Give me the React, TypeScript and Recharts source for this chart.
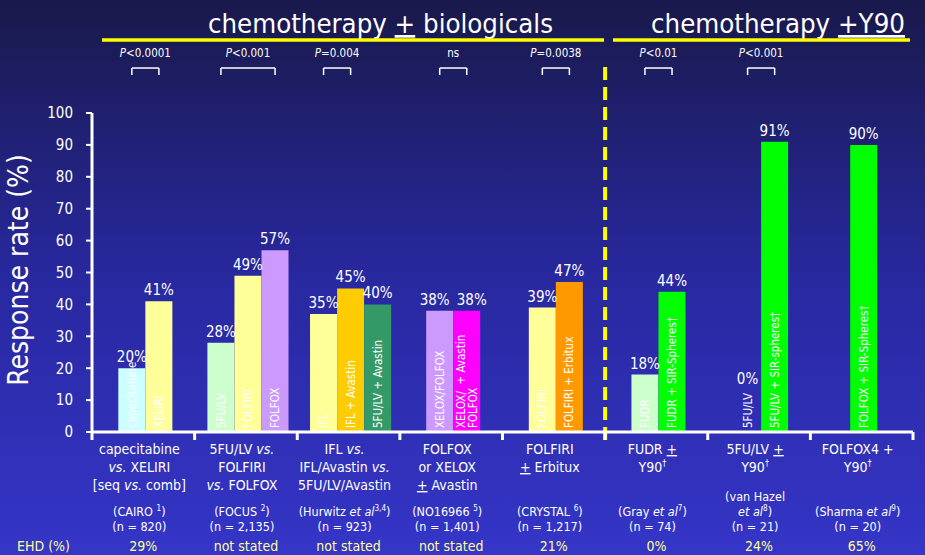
import React from 'react';
import { BarChart, Bar, XAxis, YAxis, Cell, LabelList, ReferenceLine } from 'recharts';

const FONT = "'DejaVu Sans Condensed', 'Liberation Sans', sans-serif";

// one entry per bar, left to right
const barNames = [
  'capecitabine', 'XELIRI',
  '5FU/LV', 'FOLFIRI', 'FOLFOX',
  'IFL', 'IFL + Avastin', '5FU/LV + Avastin',
  'XELOX/FOLFOX', 'XELOX/  + Avastin|FOLFOX',
  'FOLFIRI', 'FOLFIRI + Erbitux',
  'FUDR', 'FUDR + SIR-Spheres\u2020',
  '5FU/LV', '5FU/LV + SIR-spheres\u2020',
  'FOLFOX + SIR-Spheres\u2020',
];
const barGroup = [0, 0, 1, 1, 1, 2, 2, 2, 3, 3, 4, 4, 5, 5, 6, 6, 7];
const responseRates = [20, 41, 28, 49, 57, 37, 45, 40, 38, 38, 39, 47, 18, 44, 0, 91, 90];
const rateLabels = ['20%', '41%', '28%', '49%', '57%', '35%', '45%', '40%', '38%', '38%', '39%', '47%', '18%', '44%', '0%', '91%', '90%'];
const barColors = [
  '#CCFFFF', '#FFFF99', '#CCFFCC', '#FFFF99', '#CC99FF', '#FFFF99', '#FFCC00', '#339966',
  '#CC99FF', '#FF00FF', '#FFFF99', '#FF9900', '#CCFFCC', '#00FF00', '#CCFFCC', '#00FF00', '#00FF00',
];

// per group, under the axis
const groupLabels = [
  ['capecitabine', '*vs.* XELIRI', '[seq *vs.* comb]'],
  ['5FU/LV *vs.*', 'FOLFIRI', '*vs.* FOLFOX'],
  ['IFL *vs.*', 'IFL/Avastin *vs.*', '5FU/LV/Avastin'],
  ['FOLFOX', 'or XELOX', '_+_ Avastin'],
  ['FOLFIRI', '_+_ Erbitux'],
  ['FUDR _+_', 'Y90^\u2020^'],
  ['5FU/LV _+_', 'Y90^\u2020^'],
  ['FOLFOX4 +', 'Y90^\u2020^'],
];
const studyLabels = [
  ['(CAIRO ^1^)', '(n = 820)'],
  ['(FOCUS ^2^)', '(n = 2,135)'],
  ['(Hurwitz *et al*^3,4^)', '(n = 923)'],
  ['(NO16966 ^5^)', '(n = 1,401)'],
  ['(CRYSTAL ^6^)', '(n = 1,217)'],
  ['(Gray *et al*^7^)', '(n = 74)'],
  ['(van Hazel', '*et al*^8^)', '(n = 21)'],
  ['(Sharma *et al*^9^)', '(n = 20)'],
];
const ehdValues = ['29%', 'not stated', 'not stated', 'not stated', '21%', '0%', '24%', '65%'];

// bars compared by each bracket, and the p value over it
const pComparisons = [[0, 1], [2, 4], [5, 6], [8, 9], [10, 11], [12, 13], [14, 15]];
const pValues = ['*P*<0.0001', '*P*<0.001', '*P*=0.004', 'ns', '*P*=0.0038', '*P*<0.01', '*P*<0.001'];

const yTicks = [0, 10, 20, 30, 40, 50, 60, 70, 80, 90, 100];

const STEP = 0.2636; // bar width in group units
const SHIFT = 0.02;
const barX = barGroup.map((g, i) => {
  const members = barGroup.map((gg, j) => (gg === g ? j : -1)).filter((j) => j >= 0);
  const k = members.indexOf(i);
  return g + 0.5 + SHIFT + (k - (members.length - 1) / 2) * STEP;
});
const tableData = barNames.map((name, i) => ({
  name,
  x: barX[i],
  rate: responseRates[i],
  label: rateLabels[i],
}));
const axisTicks = Array.from({ length: 17 }, (_, i) => i / 2);

// *italic*  _underline_  ^superscript^
const Rich = ({ text, x, y, size, fill = '#fff', anchor = 'middle' }: any) => {
  const parts = text.split(/(\*[^*]+\*|_[^_]+_|\^[^^]+\^)/).filter(Boolean);
  const rise = size * 0.4;
  let prevSup = false;
  return (
    <text x={x} y={y} fontSize={size} fill={fill} textAnchor={anchor} fontFamily={FONT}>
      {parts.map((p: string, i: number) => {
        const sup = p.startsWith('^');
        const dy = (sup ? -rise : 0) + (prevSup ? rise : 0);
        prevSup = sup;
        const body = /^[*_^]/.test(p) ? p.slice(1, -1) : p;
        return (
          <tspan
            key={i}
            dy={dy || undefined}
            fontStyle={p.startsWith('*') ? 'italic' : undefined}
            textDecoration={p.startsWith('_') ? 'underline' : undefined}
            fontSize={sup ? size * 0.65 : undefined}
          >
            {body}
          </tspan>
        );
      })}
    </text>
  );
};

const GroupTick = (props: any) => {
  const { x, y, payload } = props;
  const v = payload.value;
  if (Number.isInteger(v)) {
    return <line x1={x} x2={x} y1={y} y2={y + 8} stroke="#fff" strokeWidth={3} />;
  }
  const g = Math.floor(v);
  const studies = studyLabels[g];
  return (
    <g>
      {groupLabels[g].map((t, i) => (
        <Rich key={'d' + i} text={t} x={x - 4} y={y + 22 + i * 18} size={14} />
      ))}
      {studies.map((t, i) => (
        <Rich key={'s' + i} text={t} x={x - 4} y={y + 99 - (studies.length - 1 - i) * 15} size={12.5} />
      ))}
      <text x={x} y={y + 119} fontSize={14} fill="#FFFF99" textAnchor="middle" fontFamily={FONT}>
        {ehdValues[g]}
      </text>
    </g>
  );
};

// nudge a value label sideways when its neighbour in the group sits at the same height
const nudge = (i: number) => {
  const same = (j: number) =>
    j >= 0 && j < responseRates.length && barGroup[j] === barGroup[i] && Math.abs(responseRates[j] - responseRates[i]) < 3;
  if (same(i + 1)) return -5;
  if (same(i - 1)) return 5;
  return 0;
};

const renderRate = (props: any) => {
  const { x, y, width, index, value } = props;
  const zero = responseRates[index] === 0;
  const ty = zero ? 432 - 48 : y - 6;
  return (
    <text x={x + width / 2 + nudge(index)} y={ty} fontSize={15} fill="#fff" textAnchor="middle" fontFamily={FONT}>
      {value}
    </text>
  );
};

const renderInside = (props: any) => {
  const { x, width, value } = props;
  const cx = x + width / 2;
  const by = 428;
  const lines = String(value).split('|');
  return (
    <text
      transform={`rotate(-90 ${cx} ${by})`}
      x={cx}
      y={by}
      fontSize={11.5}
      fill="#fff"
      fontFamily={FONT}
      style={{ whiteSpace: 'pre' }}
    >
      {lines.map((l, i) => (
        <tspan key={i} x={cx} y={by} dy={`${0.36 + (i - (lines.length - 1) / 2) * 1.05}em`}>
          {l}
        </tspan>
      ))}
    </text>
  );
};

const BR_TOP = 114.1;
const BR_LEG = 111.9;

const bracketLines = pComparisons.flatMap(([a, b], i) => [
  <ReferenceLine
    key={'h' + i}
    ifOverflow="visible"
    segment={[{ x: barX[a], y: BR_TOP }, { x: barX[b], y: BR_TOP }]}
    stroke="#fff"
    strokeWidth={1.5}
    label={{
      content: (lp: any) => {
        const vb = lp.viewBox || {};
        return <Rich text={pValues[i]} x={vb.x + vb.width / 2} y={vb.y - 11} size={11.5} />;
      },
    }}
  />,
  <ReferenceLine
    key={'l' + i}
    ifOverflow="visible"
    segment={[{ x: barX[a], y: BR_TOP }, { x: barX[a], y: BR_LEG }]}
    stroke="#fff"
    strokeWidth={1.5}
  />,
  <ReferenceLine
    key={'r' + i}
    ifOverflow="visible"
    segment={[{ x: barX[b], y: BR_TOP }, { x: barX[b], y: BR_LEG }]}
    stroke="#fff"
    strokeWidth={1.5}
  />,
]);

export default function App() {
  return (
    <div
      style={{
        position: 'absolute',
        left: 0,
        top: 0,
        width: 925,
        height: 555,
        background: 'linear-gradient(180deg, #19194b 0%, #2828a0 50%, #3535c8 100%)',
        fontFamily: FONT,
      }}
    >
      <BarChart
        width={925}
        height={555}
        data={tableData}
        margin={{ top: 113, right: 12, bottom: 0, left: 30 }}
        barCategoryGap={0}
      >
        <XAxis
          type="number"
          dataKey="x"
          domain={[0, 8]}
          ticks={axisTicks}
          interval={0}
          height={123}
          tickSize={0}
          tickMargin={0}
          tickLine={false}
          axisLine={{ stroke: '#fff', strokeWidth: 3 }}
          tick={<GroupTick />}
        />
        <YAxis
          type="number"
          domain={[0, 100]}
          ticks={yTicks}
          interval={0}
          width={62}
          tickSize={6}
          tickMargin={13}
          axisLine={{ stroke: '#fff', strokeWidth: 3 }}
          tickLine={{ stroke: '#fff', strokeWidth: 2 }}
          tick={{ fill: '#fff', fontSize: 15, fontFamily: FONT }}
        />
        <Bar
          dataKey="rate"
          isAnimationActive={false}
          minPointSize={(v: number) => (v === 0 ? 1 : 0)}
        >
          {tableData.map((d, i) => (
            <Cell key={i} fill={barColors[i]} />
          ))}
          <LabelList dataKey="label" content={renderRate} />
          <LabelList dataKey="name" content={renderInside} />
        </Bar>
        {bracketLines}
        <ReferenceLine
          ifOverflow="visible"
          segment={[{ x: 5, y: -2.5 }, { x: 5, y: 114.8 }]}
          stroke="#FFFF00"
          strokeWidth={4}
          strokeDasharray="13 7"
        />
      </BarChart>
      <svg
        width={925}
        height={555}
        style={{ position: 'absolute', left: 0, top: 0, pointerEvents: 'none' }}
      >
        <text x={208} y={33} fontSize={27} fill="#fff" fontFamily={FONT} textLength={345} lengthAdjust="spacingAndGlyphs">
          chemotherapy <tspan textDecoration="underline">+</tspan> biologicals
        </text>
        <text x={651} y={33} fontSize={27} fill="#fff" fontFamily={FONT} textLength={254} lengthAdjust="spacingAndGlyphs">
          chemotherapy <tspan textDecoration="underline">+Y90</tspan>
        </text>
        <line x1={102} x2={604} y1={40} y2={40} stroke="#FFFF00" strokeWidth={3.5} />
        <line x1={613} x2={910} y1={40} y2={40} stroke="#FFFF00" strokeWidth={3.5} />
        <text
          x={28}
          y={270}
          transform="rotate(-90 28 270)"
          textAnchor="middle"
          fontSize={28}
          fill="#fff"
          fontFamily={FONT}
        >
          Response rate (%)
        </text>
        <text x={17} y={551} fontSize={14} fill="#FFFF99" fontFamily={FONT}>
          EHD (%)
        </text>
      </svg>
    </div>
  );
}
